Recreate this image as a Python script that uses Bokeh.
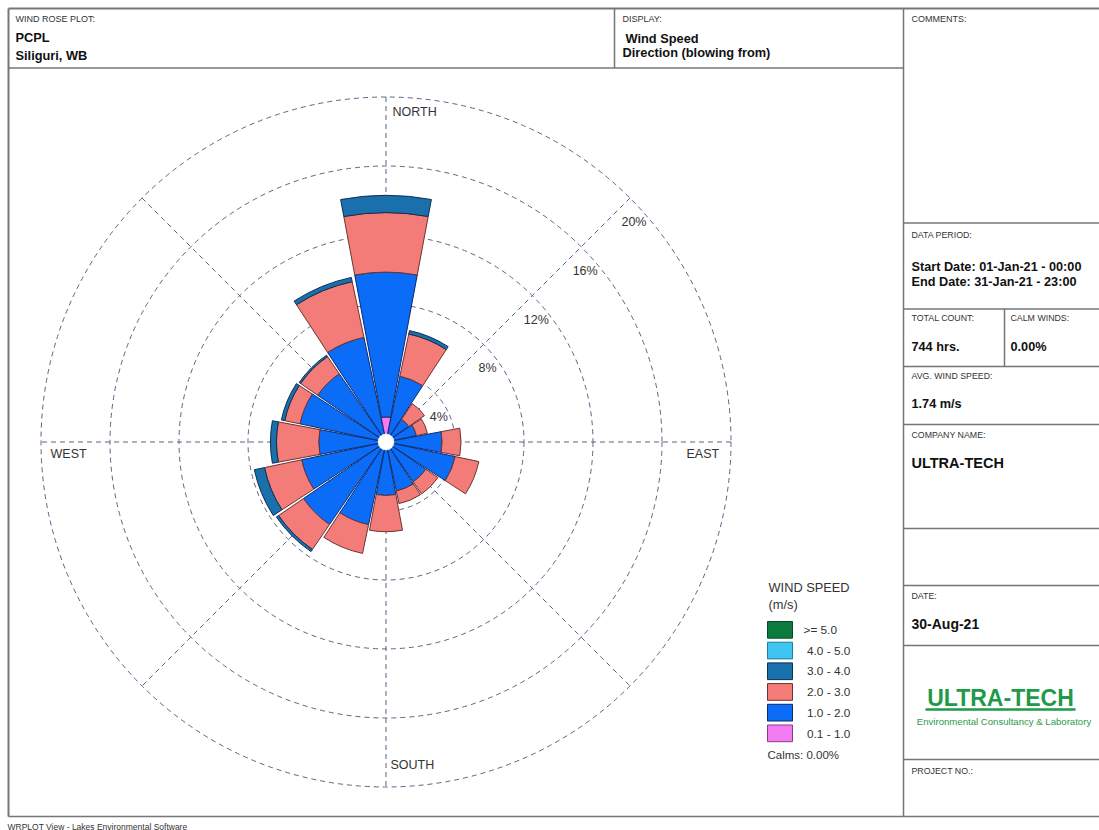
import math
from bokeh.plotting import figure
from bokeh.models import Range1d, Label, ColumnDataSource
from bokeh.embed import file_html
from bokeh.resources import INLINE

# ---------------- data ----------------
directions = ["N", "NNE", "NE", "ENE", "E", "ESE", "SE", "SSE",
              "S", "SSW", "SW", "WSW", "W", "WNW", "NW", "NNW"]
speed_bins = ["0.1 - 1.0", "1.0 - 2.0", "2.0 - 3.0", "3.0 - 4.0", "4.0 - 5.0", ">= 5.0"]

# frequency (%) per direction for each wind speed class (m/s)
freq_01_10 = [1.45, 0, 0, 0, 0, 0, 0, 0, 0, 0, 0, 0, 0, 0, 0, 0]
freq_10_20 = [8.4, 3.9, 1.6, 1.8, 3.25, 4.1, 2.8, 2.9, 3.1, 4.9, 5.8, 5.0, 3.9, 5.1, 4.8, 6.2]
freq_20_30 = [3.45, 2.5, 1.1, 0.65, 1.1, 1.4, 0.85, 0.75, 2.1, 1.7, 1.75, 2.2, 2.45, 0.9, 1.2, 3.3]
freq_30_40 = [1.0, 0.2, 0, 0, 0, 0, 0, 0, 0, 0, 0.15, 0.6, 0.35, 0.2, 0.1, 0.25]
freq_40_50 = [0, 0, 0, 0, 0, 0, 0, 0, 0, 0, 0, 0, 0, 0, 0, 0]
freq_50_up = [0, 0, 0, 0, 0, 0, 0, 0, 0, 0, 0, 0, 0, 0, 0, 0]
freq_bins = [freq_01_10, freq_10_20, freq_20_30, freq_30_40, freq_40_50, freq_50_up]

ring_pcts = [4, 8, 12, 16, 20]
ring_labels = ["4%", "8%", "12%", "16%", "20%"]

# ---------------- styles ----------------
bin_colors = ["#F47CF2", "#0A6CF7", "#F47C78", "#1A70AC", "#3EC5F2", "#0B7A3F"]
bin_lines = ["#8A3A8A", "#0D2A6B", "#6B3434", "#0D3050", "#1A7FA0", "#064D27"]
FONT = "Liberation Sans"
FRAME = "#767676"
S = 17.25               # pixels per percent
CX, CY = 385.5, 441.5   # page position of rose centre
W, H = 1099, 830


def P(px, py):
    """page pixel -> data coordinates"""
    return (px - CX) / S, (CY - py) / S


p = figure(width=W, height=H, output_backend="svg", toolbar_location=None,
           x_range=Range1d(P(0, 0)[0], P(W, 0)[0]),
           y_range=Range1d(P(0, H)[1], P(0, 0)[1]),
           min_border=0)
p.axis.visible = False
p.grid.visible = False
p.outline_line_color = None
p.background_fill_color = "white"
p.border_fill_color = "white"

# ---------------- frame ----------------
def hline(y, x0, x1, w=1.5):
    a, b = P(x0, y), P(x1, y)
    p.segment(x0=[a[0]], y0=[a[1]], x1=[b[0]], y1=[b[1]], line_color=FRAME, line_width=w)

def vline(x, y0, y1, w=1.5):
    a, b = P(x, y0), P(x, y1)
    p.segment(x0=[a[0]], y0=[a[1]], x1=[b[0]], y1=[b[1]], line_color=FRAME, line_width=w)

hline(8, 8, 1099, 2)
vline(8, 8, 816, 2)
hline(816, 8, 1099, 1.5)
hline(67.5, 8, 903)
vline(614, 8, 67.5)
vline(903, 8, 816)
for yy in [222.5, 308.5, 366, 424, 528, 585, 645, 759]:
    hline(yy, 903, 1099)
vline(1004, 308.5, 366)

# ---------------- text helper ----------------
def txt(px, py, s, size=9, bold=False, color="#333333", align="left", base="middle"):
    x, y = P(px, py)
    p.add_layout(Label(x=x, y=y, text=s, text_font=FONT, text_font_size=f"{size}px",
                       text_font_style="bold" if bold else "normal", text_color=color,
                       text_align=align, text_baseline=base))

# header
txt(15, 18, "WIND ROSE PLOT:", 9)
txt(15, 37, "PCPL", 12.8, True, "#111111")
txt(15, 55, "Siliguri, WB", 12.8, True, "#111111")
txt(622, 18, "DISPLAY:", 9)
txt(625, 38, "Wind Speed", 12.8, True, "#111111")
txt(622, 52, "Direction (blowing from)", 12.8, True, "#111111")

# right panel
txt(911, 18, "COMMENTS:", 9)
txt(911, 234, "DATA PERIOD:", 8.8)
txt(911, 266.5, "Start Date: 01-Jan-21 - 00:00", 12.7, True, "#111111")
txt(911, 281.5, "End Date: 31-Jan-21 - 23:00", 12.7, True, "#111111")
txt(911, 317.5, "TOTAL COUNT:", 8.8)
txt(1010, 317.5, "CALM WINDS:", 8.8)
txt(911, 346.5, "744 hrs.", 12.7, True, "#111111")
txt(1010, 346.5, "0.00%", 12.7, True, "#111111")
txt(911, 375.5, "AVG. WIND SPEED:", 8.8)
txt(911, 403, "1.74 m/s", 12.7, True, "#111111")
txt(911, 434.5, "COMPANY NAME:", 8.8)
txt(911, 462, "ULTRA-TECH", 14.5, True, "#111111")
txt(911, 595, "DATE:", 8.8)
txt(911, 623, "30-Aug-21", 14, True, "#111111")
txt(1000, 697, "ULTRA-TECH", 23, True, "#1E9A48", "center")
ua, ub = P(925, 709), P(1075, 709)
p.segment(x0=[ua[0]], y0=[ua[1]], x1=[ub[0]], y1=[ub[1]], line_color="#1E9A48", line_width=2.5)
txt(1003.5, 720.5, "Environmental Consultancy & Laboratory", 9.6, False, "#2E9A4E", "center")
txt(911, 770, "PROJECT NO.:", 8.8)

# footer
txt(7, 826, "WRPLOT View - Lakes Environmental Software", 8.5, False, "#333333", "left", "middle")

# ---------------- rose grid ----------------
GRID = "#5E6384"
p.circle(x=[0] * len(ring_pcts), y=[0] * len(ring_pcts), radius=ring_pcts,
         fill_color=None, line_color=GRID, line_width=1, line_dash="5 4")
rmax = max(ring_pcts)
gx0, gy0, gx1, gy1 = [], [], [], []
for ang in [0, 45, 90, 135]:
    a = math.radians(ang)
    gx0.append(rmax * math.cos(a)); gy0.append(rmax * math.sin(a))
    gx1.append(-rmax * math.cos(a)); gy1.append(-rmax * math.sin(a))
p.segment(x0=gx0, y0=gy0, x1=gx1, y1=gy1, line_color=GRID, line_width=1, line_dash="5 4")

# ---------------- rose bars ----------------
half = 10.6
rows = dict(inner=[], outer=[], start=[], end=[], fill=[], line=[])
cum = [0.0] * len(directions)
for b, vals in enumerate(freq_bins):
    for i, v in enumerate(vals):
        if v <= 0:
            continue
        centre = 90 - i * 22.5
        rows["inner"].append(cum[i])
        rows["outer"].append(cum[i] + v)
        rows["start"].append(math.radians(centre - half))
        rows["end"].append(math.radians(centre + half))
        rows["fill"].append(bin_colors[b])
        rows["line"].append(bin_lines[b])
        cum[i] += v
p.annular_wedge(x=0, y=0, inner_radius="inner", outer_radius="outer",
                start_angle="start", end_angle="end", fill_color="fill",
                line_color="line", line_width=1, source=ColumnDataSource(rows))
# calm circle
p.circle(x=[0], y=[0], radius=[8 / S], fill_color="white", line_color="white", line_width=0.5)

# ring labels
for r, lab in zip(ring_pcts, ring_labels):
    d = r * math.cos(math.radians(45))
    p.add_layout(Label(x=d + 4 / S, y=d - 24 / S, text=lab, text_font=FONT,
                       text_font_size="12.5px", text_color="#333333",
                       text_align="center", text_baseline="middle"))

# compass labels
txt(392, 111, "NORTH", 12.5)
txt(390, 764, "SOUTH", 12.5)
txt(50, 453, "WEST", 12.5)
txt(686, 453, "EAST", 12.5)

# ---------------- legend ----------------
txt(768, 586.5, "WIND SPEED", 12.8, False, "#333333")
txt(768, 603.5, "(m/s)", 12.8, False, "#333333")
lg = dict(l=[], r=[], t=[], b=[], fill=[], line=[])
order = list(range(len(speed_bins)))[::-1]
for k, b in enumerate(order):
    top = 621 + k * 20.7
    xl, yt = P(767, top)
    xr, yb = P(792, top + 16.7)
    lg["l"].append(xl); lg["r"].append(xr); lg["t"].append(yt); lg["b"].append(yb)
    lg["fill"].append(bin_colors[b]); lg["line"].append(bin_lines[b])
    txt(803 if speed_bins[b].startswith(">") else 806.5, top + 8.5, speed_bins[b], 11.8, False, "#333333")
p.quad(left="l", right="r", top="t", bottom="b", fill_color="fill", line_color="line",
       line_width=1, source=ColumnDataSource(lg))
txt(767, 754, "Calms: 0.00%", 11.5, False, "#333333")

open("out.html", "w").write(file_html(p, INLINE))
